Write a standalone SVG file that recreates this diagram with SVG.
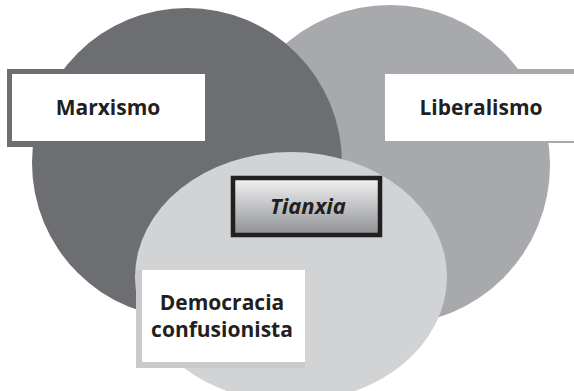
<svg xmlns="http://www.w3.org/2000/svg" width="574" height="391" viewBox="0 0 574 391">
  <defs>
    <linearGradient id="tianxiaGrad" x1="0" y1="0" x2="0" y2="1">
      <stop offset="0" stop-color="#f3f3f4"/>
      <stop offset="1" stop-color="#8e9093"/>
    </linearGradient>
    <style>
      .lbl { font-family: "Open Sans", "Noto Sans", "Liberation Sans", sans-serif; font-weight: bold; font-size: 21px; fill: #231f20; text-anchor: middle; }
      .it { font-style: italic; font-size: 22px; }
      .box { fill: #ffffff; }
    </style>
  </defs>
  <rect width="574" height="391" fill="#ffffff"/>
  <g id="liberalismo-set">
    <circle cx="390" cy="165" r="160" fill="#a7a9ac"/>
  </g>
  <g id="marxismo-set">
    <circle cx="187" cy="163" r="155" fill="#6d6e71"/>
  </g>
  <g id="democracia-set">
    <ellipse cx="291" cy="277" rx="156" ry="125" fill="#d1d3d4"/>
  </g>
  <g id="connectors"/>
  <g id="marxismo">
    <rect x="7" y="69" width="198" height="78" fill="#6d6e71"/>
    <rect class="box" x="12" y="74" width="193" height="67"/>
    <text class="lbl" x="108" y="115">Marxismo</text>
  </g>
  <g id="liberalismo">
    <rect x="380" y="69" width="194" height="74" fill="#a7a9ac"/>
    <rect class="box" x="385" y="74" width="189" height="67"/>
    <text class="lbl" x="481" y="115">Liberalismo</text>
  </g>
  <g id="tianxia">
    <rect x="233" y="178" width="147" height="57" fill="url(#tianxiaGrad)" stroke="#231f20" stroke-width="4.5"/>
    <text class="lbl it" x="308" y="214">Tianxia</text>
  </g>
  <g id="democracia">
    <rect x="136" y="270" width="169" height="98" fill="#c8c9cb"/>
    <rect class="box" x="142" y="270" width="163" height="92"/>
    <text class="lbl" x="222" y="310">Democracia</text>
    <text class="lbl" x="222" y="337">confusionista</text>
  </g>
</svg>
